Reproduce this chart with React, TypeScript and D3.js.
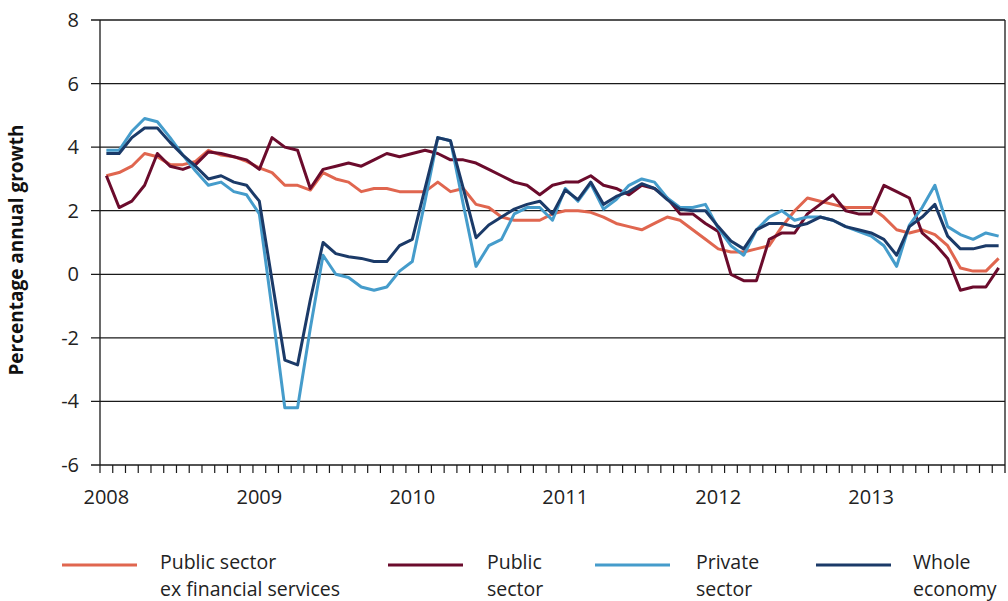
import React from "react";
import * as d3 from "d3";

const years = ["2008", "2009", "2010", "2011", "2012", "2013"];
const monthNames = ["Jan", "Feb", "Mar", "Apr", "May", "Jun", "Jul", "Aug", "Sep", "Oct", "Nov", "Dec"];
const months: string[] = years.flatMap((y) => monthNames.map((m) => `${m} ${y}`)).slice(0, 71);

const yTicks = [-6, -4, -2, 0, 2, 4, 6, 8];

const publicExFin = [
  3.1, 3.2, 3.4, 3.8, 3.7, 3.45, 3.45, 3.55, 3.9, 3.75, 3.7, 3.55,
  3.35, 3.2, 2.8, 2.8, 2.65, 3.2, 3.0, 2.9, 2.6, 2.7, 2.7, 2.6,
  2.6, 2.6, 2.9, 2.6, 2.7, 2.2, 2.1, 1.8, 1.7, 1.7, 1.7, 1.9,
  2.0, 2.0, 1.95, 1.8, 1.6, 1.5, 1.4, 1.6, 1.8, 1.7, 1.4, 1.1,
  0.8, 0.7, 0.7, 0.8, 0.9, 1.5, 2.0, 2.4, 2.3, 2.2, 2.1, 2.1,
  2.1, 1.8, 1.4, 1.3, 1.4, 1.25, 0.9, 0.2, 0.1, 0.1, 0.5,
];

const publicSector = [
  3.1, 2.1, 2.3, 2.8, 3.8, 3.4, 3.3, 3.45, 3.85, 3.8, 3.7, 3.6,
  3.3, 4.3, 4.0, 3.9, 2.7, 3.3, 3.4, 3.5, 3.4, 3.6, 3.8, 3.7,
  3.8, 3.9, 3.8, 3.6, 3.6, 3.5, 3.3, 3.1, 2.9, 2.8, 2.5, 2.8,
  2.9, 2.9, 3.1, 2.8, 2.7, 2.5, 2.8, 2.7, 2.4, 1.9, 1.9, 1.6,
  1.35, 0.0, -0.2, -0.2, 1.1, 1.3, 1.3, 1.9, 2.2, 2.5, 2.0, 1.9,
  1.9, 2.8, 2.6, 2.4, 1.3, 0.95, 0.5, -0.5, -0.4, -0.4, 0.2,
];

const privateSector = [
  3.9, 3.9, 4.5, 4.9, 4.8, 4.3, 3.75, 3.25, 2.8, 2.9, 2.6, 2.5,
  1.9, -1.1, -4.2, -4.2, -1.7, 0.6, 0.0, -0.1, -0.4, -0.5, -0.4, 0.1,
  0.4, 2.3, 4.3, 4.2, 2.2, 0.25, 0.9, 1.1, 1.9, 2.1, 2.1, 1.7,
  2.7, 2.3, 2.85, 2.05, 2.35, 2.8, 3.0, 2.9, 2.4, 2.1, 2.1, 2.2,
  1.45, 0.9, 0.6, 1.4, 1.8, 2.0, 1.7, 1.8, 1.8, 1.7, 1.5, 1.35,
  1.2, 0.9, 0.25, 1.55, 2.1, 2.8, 1.5, 1.25, 1.1, 1.3, 1.2,
];

const wholeEconomy = [
  3.8, 3.8, 4.3, 4.6, 4.6, 4.15, 3.75, 3.4, 3.0, 3.1, 2.9, 2.8,
  2.3, -0.2, -2.7, -2.85, -0.8, 1.0, 0.65, 0.55, 0.5, 0.4, 0.4, 0.9,
  1.1, 2.7, 4.3, 4.2, 2.7, 1.15, 1.55, 1.8, 2.05, 2.2, 2.3, 1.9,
  2.65, 2.35, 2.9, 2.2, 2.45, 2.6, 2.85, 2.7, 2.35, 2.05, 2.0, 2.0,
  1.5, 1.05, 0.8, 1.4, 1.6, 1.6, 1.5, 1.6, 1.8, 1.7, 1.5, 1.4,
  1.3, 1.1, 0.6, 1.5, 1.8, 2.2, 1.2, 0.8, 0.8, 0.9, 0.9,
];

const seriesNames = [
  ["Public sector", "ex financial services"],
  ["Public", "sector"],
  ["Private", "sector"],
  ["Whole", "economy"],
];
const seriesValues = [publicExFin, publicSector, privateSector, wholeEconomy];
const seriesColors = ["#E0664F", "#6B0B2C", "#459CCB", "#1B3A68"];

const FONT = "'Open Sans', 'DejaVu Sans', sans-serif";

export default function App() {
  const left = 100, right = 1005, top = 20, bottom = 465;
  const x = d3.scaleBand<string>().domain(months).range([left, right]).padding(0);
  const y = d3.scaleLinear().domain([-6, 8]).range([bottom, top]);
  const bw = x.bandwidth();
  const line = d3
    .line<number>()
    .x((_, i) => (x(months[i]) as number) + bw / 2)
    .y((d) => y(d));

  const legendLineX = [62, 388, 595, 816];
  const legendTextX = [160, 487, 696, 913];

  return (
    <svg
      width={1008}
      height={601}
      style={{ position: "absolute", left: 0, top: 0, background: "#fff" }}
      fontFamily={FONT}
    >
      {yTicks.map((t) => (
        <g key={t}>
          <line x1={91} x2={right} y1={y(t)} y2={y(t)} stroke="#1a1a1a" strokeWidth={1.3} />
          <text x={79} y={y(t)} dy="0.35em" textAnchor="end" fontSize={20} fill="#222">
            {t}
          </text>
        </g>
      ))}
      <line x1={left} x2={left} y1={top} y2={bottom} stroke="#1a1a1a" strokeWidth={1.3} />
      <line x1={right} x2={right} y1={top} y2={bottom + 8} stroke="#1a1a1a" strokeWidth={1.3} />
      {months.map((m) => (
        <line key={m} x1={x(m)} x2={x(m)} y1={bottom} y2={bottom + 8} stroke="#1a1a1a" strokeWidth={1.2} />
      ))}
      {years.map((yr) => (
        <text
          key={yr}
          x={(x(`Jan ${yr}`) as number) + bw / 2}
          y={504}
          textAnchor="middle"
          fontSize={20}
          fill="#222"
        >
          {yr}
        </text>
      ))}
      <text
        transform={`translate(23,250) rotate(-90)`}
        textAnchor="middle"
        fontSize={19}
        fontWeight="bold"
        fill="#111"
      >
        Percentage annual growth
      </text>

      {seriesValues.map((vals, si) => (
        <path
          key={si}
          d={line(vals) || ""}
          fill="none"
          stroke={seriesColors[si]}
          strokeWidth={3}
          strokeLinejoin="round"
        />
      ))}

      {seriesNames.map((names, si) => (
        <g key={si}>
          <line
            x1={legendLineX[si]}
            x2={legendLineX[si] + 75}
            y1={565}
            y2={565}
            stroke={seriesColors[si]}
            strokeWidth={3}
          />
          <text x={legendTextX[si]} y={569} fontSize={19.5} fill="#222">
            {names[0]}
          </text>
          <text x={legendTextX[si]} y={596} fontSize={19.5} fill="#222">
            {names[1]}
          </text>
        </g>
      ))}
    </svg>
  );
}
